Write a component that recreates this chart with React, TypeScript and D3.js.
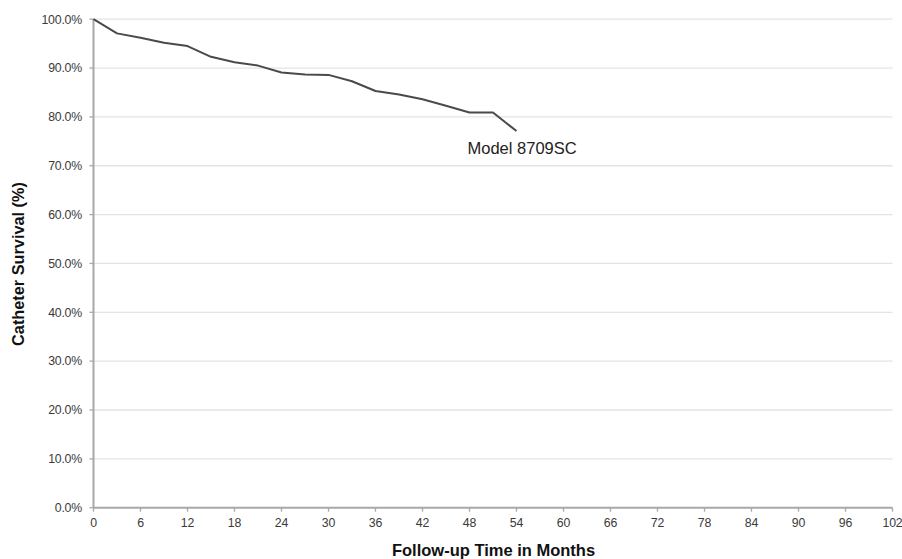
import React from "react";
import * as d3 from "d3";

// Catheter survival over follow-up (months), Model 8709SC
const months = [0, 3, 6, 9, 12, 15, 18, 21, 24, 27, 30, 33, 36, 39, 42, 45, 48, 51, 54];
const survival = [100, 97.1, 96.2, 95.2, 94.5, 92.3, 91.2, 90.5, 89.1, 88.7, 88.6, 87.3, 85.3, 84.6, 83.6, 82.3, 80.9, 80.9, 77.1];
const seriesLabel = "Model 8709SC";
const xTicks = [0, 6, 12, 18, 24, 30, 36, 42, 48, 54, 60, 66, 72, 78, 84, 90, 96, 102];
const yTicks = [0, 10, 20, 30, 40, 50, 60, 70, 80, 90, 100];
const xTitle = "Follow-up Time in Months";
const yTitle = "Catheter Survival (%)";

const W = 902;
const H = 559;
const font = "'Liberation Sans', Arial, Helvetica, sans-serif";

export default function App() {
  const x = d3.scaleLinear().domain([0, 102]).range([93.5, 892.5]);
  const y = d3.scaleLinear().domain([0, 100]).range([507.7, 19.2]);
  const line = d3
    .line<number>()
    .x((_, i) => x(months[i]))
    .y((d) => y(d));
  const lastIdx = survival.length - 1;

  return (
    <svg
      width={W}
      height={H}
      style={{ position: "absolute", left: 0, top: 0, background: "#fff" }}
      fontFamily={font}
    >
      {/* horizontal gridlines */}
      {yTicks.map((t) =>
        t === 0 ? null : (
          <line
            key={"g" + t}
            x1={x(0)}
            x2={x(102)}
            y1={y(t)}
            y2={y(t)}
            stroke="#e4e4e4"
            strokeWidth={1.3}
          />
        )
      )}
      {/* y axis */}
      <line x1={x(0)} x2={x(0)} y1={y(100)} y2={y(0)} stroke="#a8a8a8" strokeWidth={2} />
      {yTicks.map((t) => (
        <g key={"y" + t}>
          <line x1={x(0) - 4} x2={x(0)} y1={y(t)} y2={y(t)} stroke="#a8a8a8" strokeWidth={1.3} />
          <text
            x={82}
            y={y(t)}
            dy="0.35em"
            textAnchor="end"
            fontSize={12.3}
            fill="#3a3a3a"
            letterSpacing={-0.2}
          >
            {d3.format(".1f")(t) + "%"}
          </text>
        </g>
      ))}
      {/* x axis */}
      <line x1={x(0)} x2={x(102)} y1={y(0)} y2={y(0)} stroke="#a8a8a8" strokeWidth={2} />
      {xTicks.map((t) => (
        <g key={"x" + t}>
          <line x1={x(t)} x2={x(t)} y1={y(0)} y2={y(0) + 4} stroke="#a8a8a8" strokeWidth={1.3} />
          <text
            x={x(t)}
            y={y(0) + 15}
            dy="0.35em"
            textAnchor="middle"
            fontSize={12.3}
            fill="#3a3a3a"
            letterSpacing={-0.2}
          >
            {t}
          </text>
        </g>
      ))}
      {/* survival curve */}
      <path d={line(survival) || ""} fill="none" stroke="#4a4a4a" strokeWidth={2} strokeLinejoin="round" />
      <text
        x={x(months[lastIdx]) - 49}
        y={y(survival[lastIdx]) + 23}
        fontSize={16.5}
        fill="#222"
      >
        {seriesLabel}
      </text>
      {/* axis titles */}
      <text x={493.5} y={556} textAnchor="middle" fontSize={16.5} fontWeight="bold" fill="#111">
        {xTitle}
      </text>
      <text
        transform={`translate(24, 264) rotate(-90)`}
        textAnchor="middle"
        fontSize={16.3}
        fontWeight="bold"
        fill="#111"
      >
        {yTitle}
      </text>
    </svg>
  );
}
